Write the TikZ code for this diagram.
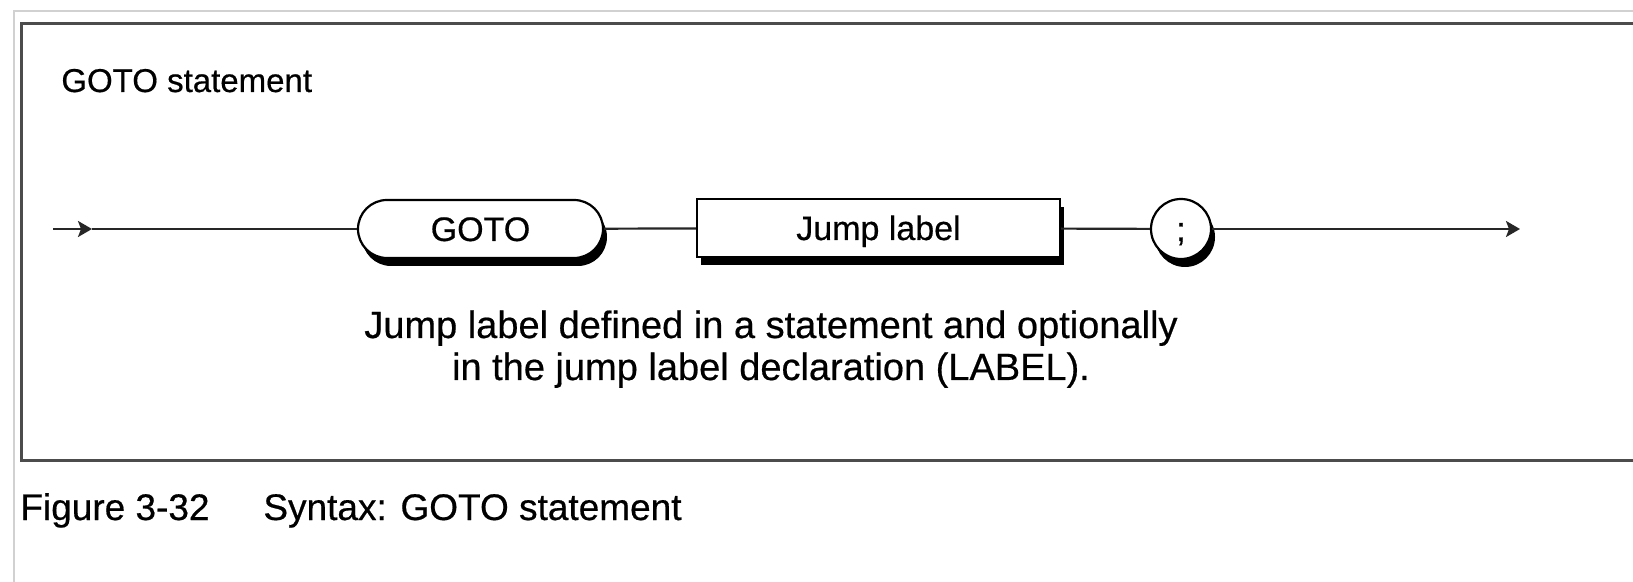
\documentclass[tikz,border=0pt]{standalone}
\usepackage{fontspec}
\setmainfont{Liberation Sans}[FakeBold=0.5]
\usetikzlibrary{shapes.misc,shadows,arrows.meta}
\begin{document}
\begin{tikzpicture}[x=0.5pt,y=-0.5pt,
  conn/.style={line width=1.1pt,black!85},
  tip/.style={-{Stealth[length=7pt,width=8pt,inset=1.5pt]}},
  shadowed/.style={drop shadow={shadow xshift=2pt,shadow yshift=-4pt,opacity=1,fill=black}},
  boxfont/.style={font=\fontsize{17}{20}\selectfont,text height=12pt,text depth=0pt},
  terminal/.style={draw,line width=1.1pt,fill=white,rounded rectangle,inner sep=0pt,
    minimum height=29pt,shadowed,boxfont},
  nonterminal/.style={draw,line width=1.1pt,fill=white,rectangle,inner sep=0pt,
    minimum height=29pt,shadowed,boxfont},
  punct/.style={draw,line width=1.1pt,fill=white,circle,inner sep=0pt,
    minimum size=30pt,shadowed,boxfont},
  plain/.style={inner sep=0pt}
]
\useasboundingbox (0,0) rectangle (1633,582);
\fill[white] (0,0) rectangle (1633,582);

% page frame and diagram frame
\draw[line width=1pt,black!18] (14,600) -- (14,11) -- (1650,11);
\draw[line width=1.5pt,black!70] (1650,24) -- (21,24) -- (21,461) -- (1650,461);

% title
\node[plain,anchor=base west,font=\fontsize{16.5}{20}\selectfont] (title) at (61,92) {GOTO statement};

% syntax elements
\node[terminal,minimum width=122.5pt] (goto) at (480.5,229) {GOTO};
\node[nonterminal,minimum width=181.5pt] (jump) at (878.5,228) {Jump label};
\node[punct] (semi) at (1181,229) {;};

\coordinate (start) at (53,229);
\coordinate (entry) at (92,229);
\coordinate (exit) at (1520,229);

\draw[conn,tip] (start) -- (entry);
\draw[conn] (entry) -- (goto);
\draw[conn] (goto) -- (jump);
\draw[conn] (jump) -- (semi);
\draw[conn,tip] (semi) -- (exit);

% note below the diagram
\node[plain,anchor=base,font=\fontsize{19}{21}\selectfont] (note1) at (771,338)
  {Jump label defined in a statement and optionally};
\node[plain,anchor=base,font=\fontsize{19}{21}\selectfont] (note2) at (771,380)
  {in the jump label declaration (LABEL).};

% caption
\node[plain,anchor=base west,font=\fontsize{18.5}{21}\selectfont] (fignum) at (20,520) {Figure 3-32};
\node[plain,anchor=base west,font=\fontsize{18.5}{21}\selectfont] (figtitle) at (263,520) {Syntax: GOTO statement};
\end{tikzpicture}
\end{document}
